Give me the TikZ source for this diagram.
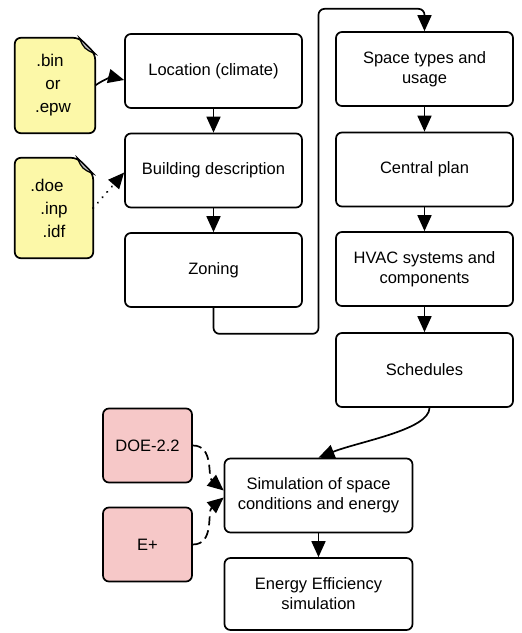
\documentclass[tikz,border=0pt]{standalone}
\usepackage{fontspec}
\setmainfont{Liberation Sans}
\usetikzlibrary{arrows.meta, positioning, backgrounds}
\definecolor{fileyellow}{RGB}{252,248,168}
\definecolor{toolpink}{RGB}{246,200,200}

\begin{document}
\begin{tikzpicture}[
    x=1pt, y=1pt,
    box/.style={
        rectangle, rounded corners=6pt,
        draw=black, line width=1.7pt,
        minimum width=177pt,
        minimum height=74pt,
        align=center,
        font=\fontsize{16.5}{20}\selectfont
    },
    widebox/.style={box, minimum width=188pt},
    toolbox/.style={box, fill=toolpink, minimum width=89pt},
    filebox/.style={
        rectangle, minimum width=80pt, minimum height=95pt,
        align=center, inner sep=0pt,
        font=\fontsize{17}{23}\selectfont
    },
    fileline/.style={draw=black, line width=1.7pt, fill=fileyellow, rounded corners=6pt},
    arrow/.style={-{Triangle[length=16pt,width=14pt]}, line width=1.7pt},
    dotarrow/.style={arrow, line cap=round, dash pattern=on 0.1pt off 7pt, line width=2.2pt},
    dasharrow/.style={arrow, dash pattern=on 9pt off 5pt}
]
\useasboundingbox (0,0) rectangle (522,633);

% Nodes
\node[box] (loc) at (213.5,562) {Location (climate)};
\node[box] (bld) at (213.5,462.5) {Building description};
\node[box] (zon) at (213.5,363) {Zoning};

\node[box] (spc) at (424.5,564) {Space types and\\usage};
\node[box] (cen) at (424.5,463.5) {Central plan};
\node[box] (hvac) at (424.5,364) {HVAC systems and\\components};
\node[box] (sch) at (424.5,263) {Schedules};

\node[widebox] (sim) at (318.5,137.5) {Simulation of space\\conditions and energy};
\node[widebox, minimum height=72pt] (eff) at (318.5,39) {Energy Efficiency\\simulation};

\node[toolbox] (doe) at (147.5,187.5) {DOE-2.2};
\node[toolbox] (ep) at (147.5,88.5) {E+};

\node[filebox] (binf) at (55,547.5) {\hspace*{-10pt}.bin\\\hspace*{-4pt}or\\\hspace*{-4pt}.epw};
\node[filebox, minimum width=78pt, minimum height=100pt] (doef) at (54,425) {\hspace*{-14pt}.doe\\.inp\\.idf};

% File outlines
\begin{scope}[on background layer]
\foreach \f in {binf,doef} {
    \draw[fileline] (\f.south west) -- (\f.north west) -- ([xshift=-16pt]\f.north east)
        -- ([yshift=-16pt]\f.north east) -- (\f.south east) -- cycle;
    \filldraw[fill=gray!55, line width=1.2pt] ([xshift=-16pt]\f.north east)
        .. controls ([xshift=-11pt,yshift=-11pt]\f.north east) .. ([yshift=-16pt]\f.north east)
        -- cycle;
}
\end{scope}

% Arrows
\draw[arrow] (binf.east) to[bend left=25] ([yshift=-9pt]loc.west);
\draw[dotarrow] (doef.east) -- ([yshift=-2pt]bld.west);
\draw[arrow] (loc) -- (bld);
\draw[arrow] (bld) -- (zon);
\draw[arrow, rounded corners=6pt] (zon.south) -- ++(0,-26) -| ++(105,325) -| (spc.north);
\draw[arrow] (spc) -- (cen);
\draw[arrow] (cen) -- (hvac);
\draw[arrow] (hvac) -- (sch);
\draw[arrow] ([xshift=5pt]sch.south) .. controls +(0,-22) and +(40,16) .. (sim.north);
\draw[dasharrow] (doe.east) to[out=0, in=140] ([yshift=5pt]sim.west);
\draw[dasharrow] (ep.east) to[out=0, in=-140] ([yshift=-2pt]sim.west);
\draw[arrow] (sim) -- (eff);

\end{tikzpicture}
\end{document}
